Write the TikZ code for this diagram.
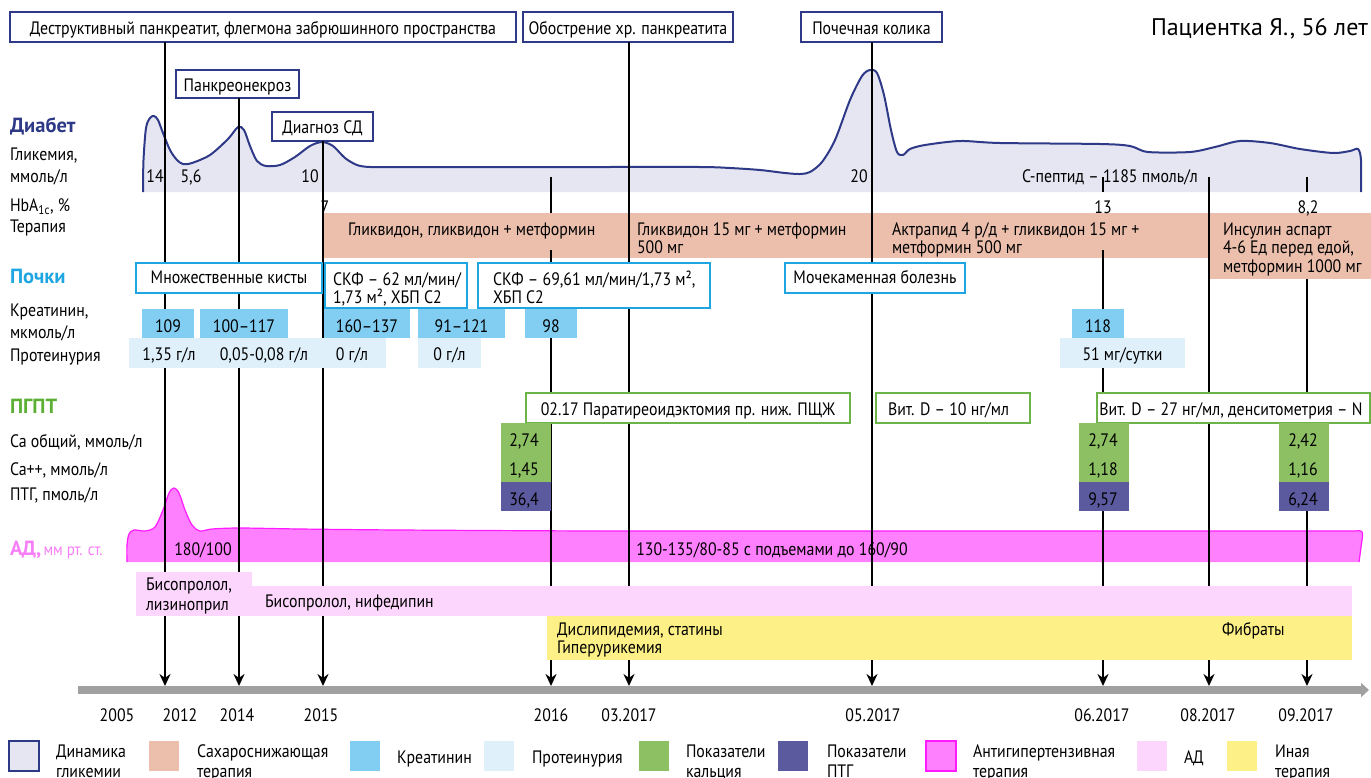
\documentclass[tikz,border=0pt]{standalone}
\usepackage{fontspec}
\setmainfont[FakeStretch=0.88]{PT Sans}
\newfontfamily\widefont{PT Sans}
\usetikzlibrary{arrows.meta}
\definecolor{navy}{HTML}{2E3A87}
\definecolor{lav}{HTML}{E6E6F3}
\definecolor{salmon}{HTML}{ECBFAD}
\definecolor{kcyan}{HTML}{1EA6E2}
\definecolor{creat}{HTML}{82CEF3}
\definecolor{prot}{HTML}{DFF0FB}
\definecolor{gborder}{HTML}{6CB44A}
\definecolor{gfill}{HTML}{8CC063}
\definecolor{ghead}{HTML}{5BB033}
\definecolor{purp}{HTML}{5B5A9F}
\definecolor{mag}{HTML}{FF80FF}
\definecolor{magline}{HTML}{FF1AFF}
\definecolor{adtext}{HTML}{F77EF7}
\definecolor{lpink}{HTML}{FDD6FD}
\definecolor{yel}{HTML}{FDF086}
\definecolor{tlgray}{HTML}{A0A0A0}
\begin{document}
\begin{tikzpicture}[x=1pt,y=-1pt,
  every node/.style={inner sep=0pt, outer sep=0pt},
  t/.style={anchor=base, font=\fontsize{18}{20}\selectfont},
  tl/.style={anchor=base west, font=\fontsize{18}{20}\selectfont},
  hdr/.style={anchor=base west, font=\widefont\bfseries\fontsize{20.5}{22}\selectfont},
  navybox/.style={draw=navy, line width=2pt, fill=white},
  cyanbox/.style={draw=kcyan, line width=2pt, fill=white},
  greenbox/.style={draw=gborder, line width=2pt, fill=white},
  cbox/.style={fill=creat},
  pbox/.style={fill=prot},
  vline/.style={line width=2pt},
  varrow/.style={line width=2pt, -{Stealth[length=12pt,width=11pt]}},
  lgsq/.style={minimum width=30pt, minimum height=30pt},
]
\useasboundingbox (0,0) rectangle (1371,777);

% glycemia area
\fill[lav] plot[smooth, tension=0.5] coordinates {(143,192) (143.5,160) (146,128) (150,118) (154,116) (158,120) (163,133) (170,150) (177,160) (183,164) (192,163) (210,155) (228,139) (238,127) (244,130) (250,146) (257,161) (266,166) (280,165) (295,157) (310,146) (322,142) (333,146) (345,158) (357,165) (370,167) (400,167) (500,167) (600,167) (700,167) (730,168) (760,170) (785,173) (800,174) (810,172) (822,162) (835,140) (850,100) (862,76) (870,70) (877,73) (884,95) (891,130) (897,152) (903,155) (910,149) (925,145) (960,141) (1000,143) (1100,144) (1130,146) (1148,152) (1190,152) (1215,147) (1240,141) (1270,143) (1300,149) (1333,153) (1350,151) (1358,149) (1361,160) (1361,192)} -- cycle;
\draw[navy, line width=2pt] plot[smooth, tension=0.5] coordinates {(143,192) (143.5,160) (146,128) (150,118) (154,116) (158,120) (163,133) (170,150) (177,160) (183,164) (192,163) (210,155) (228,139) (238,127) (244,130) (250,146) (257,161) (266,166) (280,165) (295,157) (310,146) (322,142) (333,146) (345,158) (357,165) (370,167) (400,167) (500,167) (600,167) (700,167) (730,168) (760,170) (785,173) (800,174) (810,172) (822,162) (835,140) (850,100) (862,76) (870,70) (877,73) (884,95) (891,130) (897,152) (903,155) (910,149) (925,145) (960,141) (1000,143) (1100,144) (1130,146) (1148,152) (1190,152) (1215,147) (1240,141) (1270,143) (1300,149) (1333,153) (1350,151) (1358,149) (1361,160) (1361,192)};

% AD area
\fill[mag] plot[smooth, tension=0.5] coordinates {(127,562) (127,545) (129,534) (134,530) (145,531) (155,527) (163,510) (169,493) (174,488) (179,493) (185,510) (192,525) (200,531) (212,529) (240,528) (300,529) (400,530) (600,531) (800,531) (1000,531) (1200,531) (1300,531) (1350,531) (1362,532) (1361,547) (1359,562)} -- cycle;
\draw[magline, line width=1.2pt] plot[smooth, tension=0.5] coordinates {(127,562) (127,545) (129,534) (134,530) (145,531) (155,527) (163,510) (169,493) (174,488) (179,493) (185,510) (192,525) (200,531) (212,529) (240,528) (300,529) (400,530) (600,531) (800,531) (1000,531) (1200,531) (1300,531) (1350,531) (1362,532) (1361,547) (1359,562)};

% therapy band
\fill[salmon] (323,213) rectangle (1210,258);

% top boxes
\node[navybox, minimum width=506pt, minimum height=30pt] (destr) at (263,27) {};
\node[navybox, minimum width=210pt, minimum height=30pt] (obostr) at (628,27) {};
\node[navybox, minimum width=141pt, minimum height=30pt] (kolika) at (871.5,27) {};
\node[navybox, minimum width=123pt, minimum height=28pt] (nekroz) at (237.5,84) {};
\node[navybox, minimum width=101pt, minimum height=29pt] (diag) at (322.5,126.5) {};

% timeline coordinates
\coordinate (t2012) at (165,686);
\coordinate (t2014) at (239,686);
\coordinate (t2015) at (323,686);
\coordinate (t2016) at (551,686);
\coordinate (t0317) at (629,686);
\coordinate (t0517) at (872,686);
\coordinate (t0617) at (1103,686);
\coordinate (t0817) at (1209,686);
\coordinate (t0917) at (1307,686);
\coordinate (k2016a) at (551,177);
\coordinate (k2016b) at (551,213);
\coordinate (s2016) at (551,250);
\coordinate (k0617a) at (1103,177);
\coordinate (k0617b) at (1103,192);
\coordinate (s0617) at (1103,250);
\coordinate (s0817) at (1209,177);
\coordinate (k0917a) at (1307,177);
\coordinate (k0917b) at (1307,192);
\coordinate (s0917) at (1307,250);
\coordinate (tlstart) at (78,690);
\coordinate (tlend) at (1369,690);

% vertical lines
\draw[varrow] (destr.south -| t2012) -- (t2012);
\draw[varrow] (nekroz.south -| t2014) -- (t2014);
\draw[varrow] (diag.south -| t2015) -- (t2015);
\draw[vline] (k2016a) -- (k2016b);
\draw[varrow] (s2016) -- (t2016);
\draw[varrow] (obostr.south -| t0317) -- (t0317);
\draw[varrow] (kolika.south -| t0517) -- (t0517);
\draw[vline] (k0617a) -- (k0617b);
\draw[varrow] (s0617) -- (t0617);
\draw[varrow] (s0817) -- (t0817);
\draw[vline] (k0917a) -- (k0917b);
\draw[varrow] (s0917) -- (t0917);

% timeline bar
\draw[tlgray, line width=8pt, -{Triangle[length=8pt,width=14pt]}] (tlstart) -- (tlend);

% insulin therapy box
\fill[salmon] (1210,213) rectangle (1371,279);

% kidney boxes
\node[cyanbox, minimum width=186pt, minimum height=30pt] (kisty) at (229,278) {};
\node[cyanbox, minimum width=142pt, minimum height=45pt] (skf1) at (396,285.5) {};
\node[cyanbox, minimum width=232pt, minimum height=45pt] (skf2) at (594,285.5) {};
\node[cyanbox, minimum width=180pt, minimum height=30pt] (mkb) at (875,278) {};

% creatinine
\node[cbox, minimum width=52pt, minimum height=29pt] (cr1) at (168,323.5) {};
\node[cbox, minimum width=88pt, minimum height=29pt] (cr2) at (244,323.5) {};
\node[cbox, minimum width=86pt, minimum height=29pt] (cr3) at (367,323.5) {};
\node[cbox, minimum width=87pt, minimum height=29pt] (cr4) at (461.5,323.5) {};
\node[cbox, minimum width=52pt, minimum height=29pt] (cr5) at (551,323.5) {};
\node[cbox, minimum width=52pt, minimum height=29pt] (cr6) at (1098,323.5) {};

% proteinuria
\node[pbox, minimum width=257pt, minimum height=30pt] (pr1) at (257.5,353) {};
\node[pbox, minimum width=63pt, minimum height=30pt] (pr2) at (449.5,353) {};
\node[pbox, minimum width=125pt, minimum height=30pt] (pr3) at (1122.5,353) {};

% PGPT boxes
\node[greenbox, minimum width=324pt, minimum height=30pt] (par) at (688,408) {};
\node[greenbox, minimum width=154pt, minimum height=30pt] (vitd1) at (953,408) {};
\node[greenbox, minimum width=273pt, minimum height=30pt] (vitd2) at (1233.5,408) {};

\node[fill=gfill, minimum width=50pt, minimum height=59pt] (ca1) at (526,452.5) {};
\node[fill=purp, minimum width=50pt, minimum height=29pt] (pt1) at (526,496.5) {};
\node[fill=gfill, minimum width=50pt, minimum height=59pt] (ca2) at (1104,452.5) {};
\node[fill=purp, minimum width=50pt, minimum height=29pt] (pt2) at (1104,496.5) {};
\node[fill=gfill, minimum width=50pt, minimum height=59pt] (ca3) at (1304,452.5) {};
\node[fill=purp, minimum width=50pt, minimum height=29pt] (pt3) at (1304,496.5) {};

% antihypertensive therapy and other therapy
\fill[lpink] (136,586) rectangle (1352,616);
\fill[lpink] (136,572) rectangle (252,616);
\fill[yel] (547,616) rectangle (1352,660);

% ---- texts ----
\node[t] (destrT) at (263,34) {Деструктивный панкреатит, флегмона забрюшинного пространства};
\node[t] (obostrT) at (628,34) {Обострение хр. панкреатита};
\node[t] (kolikaT) at (871.5,34) {Почечная колика};
\node[t] (nekrozT) at (237.5,91) {Панкреонекроз};
\node[t] (diagT) at (322.5,133) {Диагноз СД};
\node[anchor=base east, font=\widefont\fontsize{24}{27}\selectfont] (title) at (1368,35) {Пациентка Я., 56 лет};

\node[hdr, text=navy] (hDiab) at (10,132) {Диабет};
\node[tl] (lGlik) at (10,160) {Гликемия,};
\node[tl] (lMmol) at (10,182) {ммоль/л};
\node[tl] (lHb) at (10,211) {HbA\textsubscript{1c}, \%};
\node[tl] (lTer) at (10,232) {Терапия};
\node[hdr, text=kcyan] (hPoch) at (10,283) {Почки};
\node[tl] (lKr) at (10,316) {Креатинин,};
\node[tl] (lMkm) at (10,338) {мкмоль/л};
\node[tl] (lProt) at (10,361) {Протеинурия};
\node[hdr, text=ghead] (hPg) at (10,413) {ПГПТ};
\node[tl] (lCa) at (10,447) {Ca общий, ммоль/л};
\node[tl] (lCa2) at (10,475) {Ca++, ммоль/л};
\node[tl] (lPtg) at (10,500) {ПТГ, пмоль/л};
\node[anchor=base west, text=adtext] (hAD) at (10,555) {{\widefont\bfseries\fontsize{20.5}{22}\selectfont АД,} {\fontsize{17}{19}\selectfont мм рт. ст.}};

\node[t] (g14) at (155,182) {14};
\node[t] (g56) at (191,182) {5,6};
\node[t] (g10) at (310,182) {10};
\node[t] (g20) at (859,182) {20};
\node[t] (gcp) at (1110,182) {С-пептид – 1185 пмоль/л};
\node[t] (h7) at (325,213) {7};
\node[t] (h13) at (1103,213) {13};
\node[t] (h82) at (1308,213) {8,2};

\node[tl] (th1) at (348,235) {Гликвидон, гликвидон + метформин};
\node[tl] (th2a) at (637,235) {Гликвидон 15 мг + метформин};
\node[tl] (th2b) at (637,253) {500 мг};
\node[tl] (th3a) at (892,235) {Актрапид 4 р/д + гликвидон 15 мг +};
\node[tl] (th3b) at (892,253) {метформин 500 мг};
\node[tl] (th4a) at (1223,235) {Инсулин аспарт};
\node[tl] (th4b) at (1223,253) {4-6 Ед перед едой,};
\node[tl] (th4c) at (1223,272) {метформин 1000 мг};

\node[t] (kistyT) at (229,283) {Множественные кисты};
\node[tl] (skf1a) at (333,285) {СКФ – 62 мл/мин/};
\node[tl] (skf1b) at (333,303) {1,73 м², ХБП С2};
\node[tl] (skf2a) at (493,285) {СКФ – 69,61 мл/мин/1,73 м²,};
\node[tl] (skf2b) at (493,303) {ХБП С2};
\node[t] (mkbT) at (875,283) {Мочекаменная болезнь};

\node[t] (cr1T) at (168,332) {109};
\node[t] (cr2T) at (244,332) {100–117};
\node[t] (cr3T) at (367,332) {160–137};
\node[t] (cr4T) at (461.5,332) {91–121};
\node[t] (cr5T) at (551,332) {98};
\node[t] (cr6T) at (1098,332) {118};

\node[t] (pr1aT) at (169,360) {1,35 г/л};
\node[t] (pr1bT) at (264,360) {0,05-0,08 г/л};
\node[t] (pr1cT) at (352,360) {0 г/л};
\node[t] (pr2T) at (449.5,360) {0 г/л};
\node[t] (pr3T) at (1122.5,360) {51 мг/сутки};

\node[t] (parT) at (688,415) {02.17 Паратиреоидэктомия пр. ниж. ПЩЖ};
\node[t] (vitd1T) at (948.5,415) {Вит. D – 10 нг/мл};
\node[t] (vitd2T) at (1231,415) {Вит. D – 27 нг/мл, денситометрия – N};

\node[t] (ca1a) at (524,446) {2,74};
\node[t] (ca1b) at (524,475) {1,45};
\node[t] (pt1T) at (524,505) {36,4};
\node[t] (ca2a) at (1103,446) {2,74};
\node[t] (ca2b) at (1103,475) {1,18};
\node[t] (pt2T) at (1103,505) {9,57};
\node[t] (ca3a) at (1303,446) {2,42};
\node[t] (ca3b) at (1303,475) {1,16};
\node[t] (pt3T) at (1303,505) {6,24};

\node[t] (ad1) at (203,555) {180/100};
\node[t] (ad2) at (772,555) {130-135/80-85 с подъемами до 160/90};

\node[tl] (bis1) at (146,590) {Бисопролол,};
\node[tl] (bis2) at (146,610) {лизиноприл};
\node[tl] (bis3) at (265,607) {Бисопролол, нифедипин};
\node[tl] (dis1) at (557,635) {Дислипидемия, статины};
\node[tl] (dis2) at (557,653) {Гиперурикемия};
\node[tl] (fib) at (1222,635) {Фибраты};

\node[t] (y2005) at (117,721) {2005};
\node[t] (y2012) at (180,721) {2012};
\node[t] (y2014) at (237,721) {2014};
\node[t] (y2015) at (321,721) {2015};
\node[t] (y2016) at (551,721) {2016};
\node[t] (y0317) at (629,721) {03.2017};
\node[t] (y0517) at (873,721) {05.2017};
\node[t] (y0617) at (1102,721) {06.2017};
\node[t] (y0817) at (1208,721) {08.2017};
\node[t] (y0917) at (1306,721) {09.2017};

% legend
\node[lgsq, fill=lav, draw=navy, line width=2pt] (lg1) at (24,756) {};
\node[lgsq, fill=salmon] (lg2) at (164,756) {};
\node[lgsq, fill=creat] (lg3) at (365,756) {};
\node[lgsq, fill=prot] (lg4) at (499,756) {};
\node[lgsq, fill=gfill] (lg5) at (654,756) {};
\node[lgsq, fill=purp] (lg6) at (793,756) {};
\node[lgsq, fill=mag, draw=magline, line width=2pt] (lg7) at (941,756) {};
\node[lgsq, fill=lpink] (lg8) at (1152,756) {};
\node[lgsq, fill=yel] (lg9) at (1242,756) {};

\node[tl] (lg1a) at (56,757) {Динамика};
\node[tl] (lg1b) at (56,777) {гликемии};
\node[tl] (lg2a) at (197,757) {Сахароснижающая};
\node[tl] (lg2b) at (197,777) {терапия};
\node[tl] (lg3a) at (397,763) {Креатинин};
\node[tl] (lg4a) at (532,763) {Протеинурия};
\node[tl] (lg5a) at (686,757) {Показатели};
\node[tl] (lg5b) at (686,777) {кальция};
\node[tl] (lg6a) at (827,757) {Показатели};
\node[tl] (lg6b) at (827,777) {ПТГ};
\node[tl] (lg7a) at (973,757) {Антигипертензивная};
\node[tl] (lg7b) at (973,777) {терапия};
\node[tl] (lg8a) at (1184,763) {АД};
\node[tl] (lg9a) at (1275,757) {Иная};
\node[tl] (lg9b) at (1275,777) {терапия};
\end{tikzpicture}
\end{document}
